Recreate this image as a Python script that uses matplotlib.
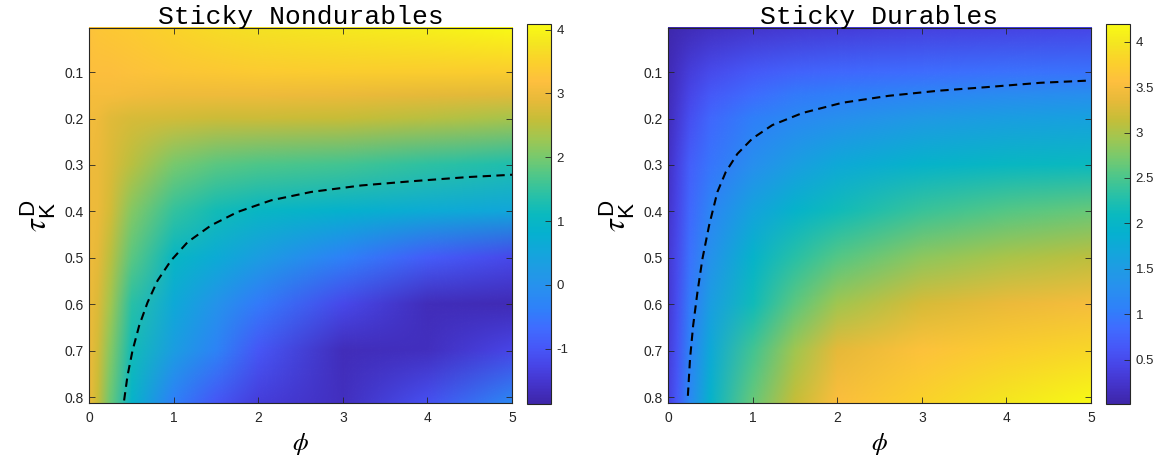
import numpy as np
import matplotlib
matplotlib.use("Agg")
import matplotlib.pyplot as plt
from matplotlib.colors import LinearSegmentedColormap, Normalize
from matplotlib.image import NonUniformImage
from matplotlib.ticker import FormatStrFormatter

plt.rcParams["font.family"] = ["Liberation Sans", "DejaVu Sans"]
plt.rcParams["mathtext.fontset"] = "custom"
plt.rcParams["mathtext.rm"] = "Liberation Sans"
plt.rcParams["mathtext.sf"] = "Liberation Sans"
plt.rcParams["mathtext.it"] = "STIXGeneral:italic"

# grid
phi = [0, 0.1, 0.25, 0.5, 1, 1.5, 2, 3, 4, 5]
tau = [0.005, 0.1, 0.15, 0.2, 0.3, 0.4, 0.5, 0.6, 0.7, 0.8125]

nondur = [
    [3.25, 3.30, 3.35, 3.40, 3.55, 3.65, 3.75, 3.85, 3.95, 4.09],
    [3.20, 3.20, 3.20, 3.25, 3.30, 3.35, 3.40, 3.45, 3.45, 3.45],
    [3.10, 3.10, 3.10, 3.05, 3.00, 3.00, 3.00, 2.95, 2.90, 2.85],
    [3.05, 3.00, 2.85, 2.75, 2.70, 2.65, 2.65, 2.60, 2.50, 2.35],
    [3.00, 2.95, 2.80, 2.50, 2.00, 1.80, 1.70, 1.60, 1.45, 1.30],
    [3.00, 2.95, 2.70, 2.10, 1.50, 1.20, 1.00, 0.85, 0.65, 0.55],
    [3.00, 2.90, 2.50, 1.80, 1.00, 0.65, 0.30, -0.35, -0.90, -1.20],
    [2.95, 2.80, 2.30, 1.40, 0.60, 0.05, -0.45, -1.20, -1.70, -1.75],
    [2.95, 2.70, 2.10, 1.20, 0.30, -0.30, -1.00, -1.70, -1.65, -1.25],
    [2.95, 2.60, 1.90, 0.90, -0.40, -1.00, -1.40, -1.65, -1.10, -0.20],
]

dur = [
    [0.05, 0.08, 0.12, 0.18, 0.25, 0.30, 0.33, 0.38, 0.42, 0.45],
    [0.10, 0.20, 0.35, 0.50, 0.65, 0.75, 0.80, 0.85, 0.90, 0.92],
    [0.12, 0.25, 0.45, 0.65, 0.85, 1.00, 1.05, 1.15, 1.25, 1.30],
    [0.15, 0.30, 0.55, 0.80, 1.05, 1.20, 1.30, 1.45, 1.55, 1.60],
    [0.20, 0.40, 0.70, 0.95, 1.30, 1.55, 1.75, 1.95, 2.05, 2.10],
    [0.25, 0.45, 0.80, 1.15, 1.65, 1.95, 2.15, 2.40, 2.55, 2.65],
    [0.30, 0.50, 0.90, 1.35, 1.95, 2.30, 2.55, 2.85, 3.00, 3.10],
    [0.30, 0.55, 1.00, 1.55, 2.15, 2.60, 2.95, 3.25, 3.40, 3.50],
    [0.35, 0.60, 1.10, 1.75, 2.45, 2.95, 3.35, 3.60, 3.75, 3.85],
    [0.40, 0.65, 1.20, 1.95, 2.65, 3.15, 3.55, 3.80, 4.00, 4.17],
]

# dashed boundary curves
nondur_line_phi = [0.415, 0.455, 0.514, 0.593, 0.692, 0.81, 0.968, 1.166, 1.443,
                   1.759, 2.154, 2.628, 3.221, 3.814, 4.478, 5.0]
nondur_line_tau = [0.807, 0.754, 0.700, 0.646, 0.596, 0.549, 0.506, 0.466, 0.430,
                   0.401, 0.376, 0.358, 0.344, 0.335, 0.326, 0.321]
dur_line_phi = [0.235, 0.26, 0.297, 0.348, 0.407, 0.486, 0.584, 0.683, 0.82, 0.997,
                1.234, 1.59, 2.06, 2.61, 3.2, 3.79, 4.4, 5.0]
dur_line_tau = [0.797, 0.718, 0.646, 0.574, 0.502, 0.430, 0.358, 0.315, 0.276, 0.243,
                0.214, 0.188, 0.166, 0.151, 0.140, 0.132, 0.123, 0.118]

x_ticks = [0, 1, 2, 3, 4, 5]
y_ticks = [0.1, 0.2, 0.3, 0.4, 0.5, 0.6, 0.7, 0.8]
nondur_cticks = [-1, 0, 1, 2, 3, 4]
dur_cticks = [0.5, 1, 1.5, 2, 2.5, 3, 3.5, 4]
nondur_clim = (-1.87, 4.09)
dur_clim = (0.012, 4.195)

# approximate MATLAB parula
parula_pts = [
    (0.00, (0.2422, 0.1504, 0.6603)), (0.05, (0.2665, 0.2011, 0.7915)),
    (0.10, (0.2796, 0.2702, 0.9062)), (0.15, (0.2760, 0.3460, 0.9750)),
    (0.20, (0.2470, 0.4250, 0.9990)), (0.25, (0.1830, 0.5030, 0.9770)),
    (0.30, (0.1590, 0.5590, 0.9400)), (0.35, (0.1250, 0.6060, 0.8970)),
    (0.40, (0.0730, 0.6500, 0.8600)), (0.45, (0.0200, 0.6940, 0.8110)),
    (0.50, (0.0400, 0.7280, 0.7470)), (0.55, (0.1600, 0.7560, 0.6530)),
    (0.60, (0.3050, 0.7800, 0.5410)), (0.65, (0.4660, 0.7900, 0.4300)),
    (0.70, (0.6280, 0.7780, 0.3160)), (0.75, (0.7760, 0.7440, 0.2190)),
    (0.80, (0.9050, 0.7280, 0.2250)), (0.85, (0.9950, 0.7500, 0.2440)),
    (0.90, (0.9870, 0.8150, 0.1730)), (0.95, (0.9570, 0.8980, 0.1300)),
    (1.00, (0.9769, 0.9839, 0.0805)),
]
parula = LinearSegmentedColormap.from_list("parula", parula_pts, N=256)

fig = plt.figure(figsize=(11.64, 4.70), dpi=100)

W, H = 1164, 470
panels = [
    ("Sticky Nondurables", nondur, nondur_clim, nondur_cticks,
     nondur_line_phi, nondur_line_tau, 89, 527),
    ("Sticky Durables", dur, dur_clim, dur_cticks,
     dur_line_phi, dur_line_tau, 668, 1106),
]

dark = "#262626"
for title, z, clim, cticks, lphi, ltau, ax_left, cb_left in panels:
    ax = fig.add_axes([ax_left / W, (H - 403) / H, 423 / W, 375 / H])
    cax = fig.add_axes([cb_left / W, (H - 404) / H, 24 / W, 380 / H])

    norm = Normalize(vmin=clim[0], vmax=clim[1])
    im = NonUniformImage(ax, interpolation="bilinear", cmap=parula, norm=norm,
                         extent=(0, 5, 0.005, 0.8125))
    im.set_data(np.array(phi), np.array(tau), np.array(z))
    ax.add_image(im)
    ax.plot(lphi, ltau, color="black", linestyle=(0, (4, 2.6)), linewidth=1.5)

    ax.set_xlim(0, 5)
    ax.set_ylim(0.8125, 0.005)
    ax.set_xticks(x_ticks)
    ax.set_yticks(y_ticks)
    ax.tick_params(direction="in", top=True, right=True, length=4, width=0.6,
                   color=dark, labelcolor=dark, labelsize=10)
    ax.tick_params(axis="x", pad=6)
    ax.tick_params(axis="y", pad=4)
    for s in ax.spines.values():
        s.set_color(dark)
        s.set_linewidth(0.8)
        s.set_zorder(3)

    ax.set_title(title, family="Liberation Mono", fontsize=19, pad=3)
    ax.set_xlabel(r"$\phi$", fontsize=18, labelpad=4)
    ax.set_ylabel(r"$\tau_{\mathrm{K}}^{\mathrm{D}}$", fontsize=23, labelpad=5)

    cb = fig.colorbar(im, cax=cax)
    cb.set_ticks(cticks)
    cb.ax.yaxis.set_major_formatter(FormatStrFormatter("%g"))
    cb.ax.tick_params(direction="in", length=4, width=0.6, color=dark,
                      labelcolor=dark, labelsize=9.5, pad=4)
    cb.outline.set_edgecolor(dark)
    cb.outline.set_linewidth(0.8)

fig.savefig("out.png", dpi=100)
